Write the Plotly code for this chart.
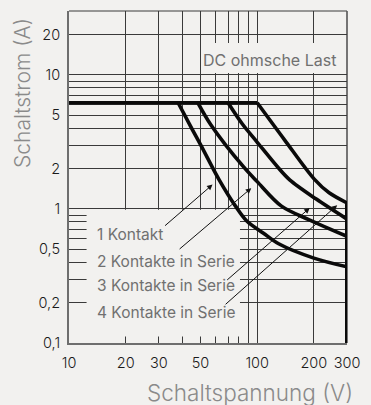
import math
import plotly.graph_objects as go

# Breaking capacity, DC resistive load: switching voltage (V) vs. switching current (A)
rated_current = 6.2          # flat current limit shared by all curves
max_voltage = 300            # voltage limit (vertical bar)
min_current = 0.1

series_labels = ["1 Kontakt", "2 Kontakte in Serie", "3 Kontakte in Serie", "4 Kontakte in Serie"]

volts_1 = [38, 45.6, 50.4, 62.8, 76.7, 88.3, 108, 130, 200, 300]
amps_1 = [6.2, 3.83, 2.96, 1.65, 1.05, 0.81, 0.66, 0.55, 0.43, 0.37]

volts_2 = [48.4, 56.8, 84.9, 100, 134.6, 189, 300]
amps_2 = [6.2, 4.24, 2.05, 1.6, 1.05, 0.83, 0.625]

volts_3 = [70, 83.2, 99.6, 129.4, 148.8, 205, 300]
amps_3 = [6.2, 4.32, 3.17, 2.03, 1.65, 1.19, 0.84]

volts_4 = [100, 139.7, 201, 241, 300]
amps_4 = [6.2, 3.28, 1.67, 1.32, 1.11]

# leader lines: (tail V, tail A) at the label, (head V, head A) on the curve
leader_tails = [(31.8, 0.734), (38.0, 0.492), (68.0, 0.289), (66.7, 0.19)]
leader_heads = [(57.9, 1.52), (93.0, 1.43), (190, 1.017), (266, 1.067)]

x_tickvals = [10, 20, 30, 50, 100, 200, 300]
x_ticktext = ["10", "20", "30", "50", "100", "200", "300"]
x_minor = [40, 60, 70, 80, 90]

y_tickvals = [0.1, 0.2, 0.5, 1, 2, 5, 10, 20]
y_ticktext = ["0,1", "0,2", "0,5", "1", "2", "5", "10", "20"]
y_minor = [0.3, 0.4, 0.6, 0.7, 0.8, 0.9, 3, 4, 6, 7, 8, 9, 30]

BG = "#f2f1ef"
GRID = "#3a3a3a"
AXIS = "#6e6e6e"
INK = "#0a0a0a"
LABEL = "#707070"
FONT = "Inter"

fig = go.Figure()

# flat current limit from 10 V up to the last knee
fig.add_trace(go.Scatter(
    x=[10, volts_4[0]], y=[rated_current, rated_current], mode="lines",
    line=dict(color=INK, width=3.6), cliponaxis=False, showlegend=False, hoverinfo="skip"))

for vs, as_ in [(volts_1, amps_1), (volts_2, amps_2), (volts_3, amps_3), (volts_4, amps_4)]:
    fig.add_trace(go.Scatter(
        x=vs, y=as_, mode="lines",
        line=dict(color=INK, width=3.6, shape="spline", smoothing=0.9),
        cliponaxis=False, showlegend=False, hoverinfo="skip"))

# voltage limit
fig.add_trace(go.Scatter(
    x=[max_voltage, max_voltage], y=[amps_4[-1], min_current], mode="lines",
    line=dict(color=INK, width=4), cliponaxis=False, showlegend=False, hoverinfo="skip"))

shapes = [
    # blank panels behind the label texts
    dict(type="rect", xref="x", yref="y", x0=12.4, x1=81, y0=0.112, y1=0.985,
         fillcolor=BG, line=dict(width=0), layer="between"),
    dict(type="rect", xref="x", yref="y", x0=51, x1=292, y0=10.35, y1=17.3,
         fillcolor=BG, line=dict(width=0), layer="between"),
    # top and right frame
    dict(type="line", xref="paper", yref="paper", x0=0, x1=1, y0=1, y1=1,
         line=dict(color=GRID, width=1), layer="between"),
    dict(type="line", xref="paper", yref="paper", x0=1, x1=1, y0=0, y1=1,
         line=dict(color="#555555", width=1.6), layer="between"),
]

annotations = []
label_pos = [(13.7, 0.642), (13.7, 0.407), (13.7, 0.268), (13.7, 0.170)]
for text, (lx, ly) in zip(series_labels, label_pos):
    annotations.append(dict(
        x=math.log10(lx), y=math.log10(ly), xref="x", yref="y", text=text,
        showarrow=False, xanchor="left", yanchor="middle",
        font=dict(family=FONT, size=15.5, color=LABEL)))

for (tv, ta), (hv, ha) in zip(leader_tails, leader_heads):
    annotations.append(dict(
        x=math.log10(hv), y=math.log10(ha), ax=math.log10(tv), ay=math.log10(ta),
        xref="x", yref="y", axref="x", ayref="y", text="", showarrow=True,
        arrowhead=2, arrowsize=1.1, arrowwidth=1, arrowcolor="#111111",
        standoff=0, startstandoff=0))

annotations.append(dict(
    x=math.log10(116), y=math.log10(12.9), xref="x", yref="y",
    text="DC ohmsche Last", showarrow=False, xanchor="center", yanchor="middle",
    font=dict(family=FONT, size=16, color=LABEL)))

annotations.append(dict(
    x=-0.1667, y=0.752, xref="paper", yref="paper", text="Schaltstrom (A)",
    textangle=-90, showarrow=False, xanchor="center", yanchor="middle",
    font=dict(family=FONT, size=21, color="#8a8a8a", weight=300)))
annotations.append(dict(
    x=1.027, y=-0.1506, xref="paper", yref="paper", text="Schaltspannung (V)",
    showarrow=False, xanchor="right", yanchor="middle",
    font=dict(family=FONT, size=22.5, color="#8a8a8a", weight=300)))

fig.update_layout(
    width=371, height=405,
    margin=dict(l=69, r=20, t=11, b=62),
    paper_bgcolor=BG, plot_bgcolor=BG,
    showlegend=False,
    shapes=shapes,
    annotations=annotations,
    xaxis=dict(
        type="log", range=[math.log10(10), math.log10(300)],
        tickmode="array", tickvals=x_tickvals, ticktext=x_ticktext,
        ticks="", ticklabelstandoff=6,
        tickfont=dict(family=FONT, size=14.5, color="#1a1a1a", weight=300),
        showgrid=True, gridcolor=GRID, gridwidth=1,
        minor=dict(tickmode="array", tickvals=x_minor, showgrid=True,
                   gridcolor=GRID, gridwidth=1, ticks=""),
        showline=True, linecolor=AXIS, linewidth=2, zeroline=False,
    ),
    yaxis=dict(
        type="log", range=[math.log10(0.1), math.log10(30)],
        tickmode="array", tickvals=y_tickvals, ticktext=y_ticktext,
        ticks="", ticklabelstandoff=4,
        tickfont=dict(family=FONT, size=14.5, color="#1a1a1a", weight=300),
        showgrid=True, gridcolor=GRID, gridwidth=1,
        minor=dict(tickmode="array", tickvals=y_minor, showgrid=True,
                   gridcolor=GRID, gridwidth=1, ticks=""),
        showline=True, linecolor=AXIS, linewidth=2, zeroline=False,
    ),
)

fig.write_html("out.html")
